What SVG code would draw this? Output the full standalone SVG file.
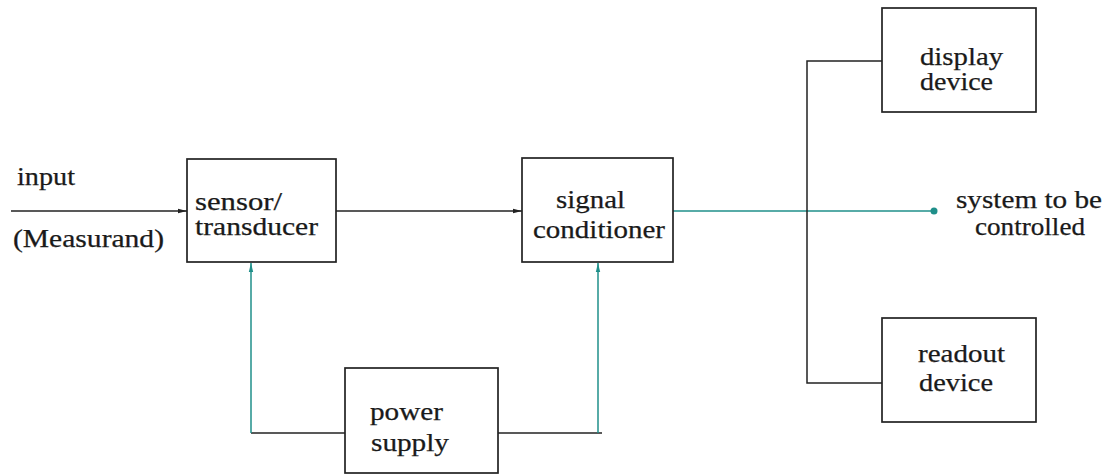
<svg xmlns="http://www.w3.org/2000/svg" width="1110" height="475" viewBox="0 0 1110 475">
<style>
.box{fill:#fff;stroke:#222;stroke-width:1.7}
.t{font-family:'Liberation Serif','DejaVu Serif','Times New Roman',serif;font-size:25px;fill:#1a1a1a;stroke:#1a1a1a;stroke-width:0.25}
.k{fill:none;stroke:#222;stroke-width:1.5}
.g{fill:none;stroke:#1f8f8a;stroke-width:1.5}
</style>
<defs>
<marker id="ak" markerWidth="10" markerHeight="6" refX="9" refY="3" orient="auto" markerUnits="userSpaceOnUse"><path d="M0,0.8 L9,3 L0,5.2 Z" fill="#222"/></marker>
<marker id="ag" markerWidth="10" markerHeight="6" refX="9" refY="3" orient="auto" markerUnits="userSpaceOnUse"><path d="M0,0.8 L9,3 L0,5.2 Z" fill="#1f8f8a"/></marker>
</defs>
<rect width="1110" height="475" fill="#fff"/>
<g id="connectors">
<line class="k" x1="11" y1="211" x2="187" y2="211" marker-end="url(#ak)"/>
<line class="k" x1="336" y1="211" x2="522" y2="211" marker-end="url(#ak)"/>
<line class="g" x1="673" y1="211" x2="934" y2="211"/>
<circle cx="934" cy="211" r="3.5" fill="#1f8f8a"/>
<polyline class="k" points="882,61 807,61 807,383 882,383"/>
<line class="k" x1="251" y1="433" x2="345" y2="433"/>
<line class="g" x1="251" y1="433" x2="251" y2="263" marker-end="url(#ag)"/>
<line class="k" x1="498" y1="433" x2="602" y2="433"/>
<line class="g" x1="598" y1="433" x2="598" y2="263" marker-end="url(#ag)"/>
</g>
<g id="input-label">
<text class="t" x="17" y="185" textLength="58" lengthAdjust="spacingAndGlyphs">input</text>
<text class="t" x="13" y="247" textLength="151" lengthAdjust="spacingAndGlyphs">(Measurand)</text>
</g>
<g id="sensor">
<rect class="box" x="187" y="159" width="149" height="103"/>
<text class="t" x="195" y="210" textLength="87" lengthAdjust="spacingAndGlyphs">sensor/</text>
<text class="t" x="195" y="235" textLength="123" lengthAdjust="spacingAndGlyphs">transducer</text>
</g>
<g id="signal-conditioner">
<rect class="box" x="522" y="158" width="151" height="104"/>
<text class="t" x="556" y="208" textLength="69" lengthAdjust="spacingAndGlyphs">signal</text>
<text class="t" x="533" y="238" textLength="132" lengthAdjust="spacingAndGlyphs">conditioner</text>
</g>
<g id="power-supply">
<rect class="box" x="345" y="368" width="153" height="105"/>
<text class="t" x="370" y="420" textLength="73" lengthAdjust="spacingAndGlyphs">power</text>
<text class="t" x="371" y="451" textLength="78" lengthAdjust="spacingAndGlyphs">supply</text>
</g>
<g id="display-device">
<rect class="box" x="882" y="8" width="154" height="104"/>
<text class="t" x="920" y="65" textLength="83" lengthAdjust="spacingAndGlyphs">display</text>
<text class="t" x="920" y="90" textLength="73" lengthAdjust="spacingAndGlyphs">device</text>
</g>
<g id="readout-device">
<rect class="box" x="882" y="318" width="154" height="104"/>
<text class="t" x="918" y="362" textLength="87" lengthAdjust="spacingAndGlyphs">readout</text>
<text class="t" x="919" y="391" textLength="74" lengthAdjust="spacingAndGlyphs">device</text>
</g>
<g id="system-label">
<text class="t" x="956" y="208" textLength="146" lengthAdjust="spacingAndGlyphs">system to be</text>
<text class="t" x="975" y="235" textLength="110" lengthAdjust="spacingAndGlyphs">controlled</text>
</g>
</svg>
